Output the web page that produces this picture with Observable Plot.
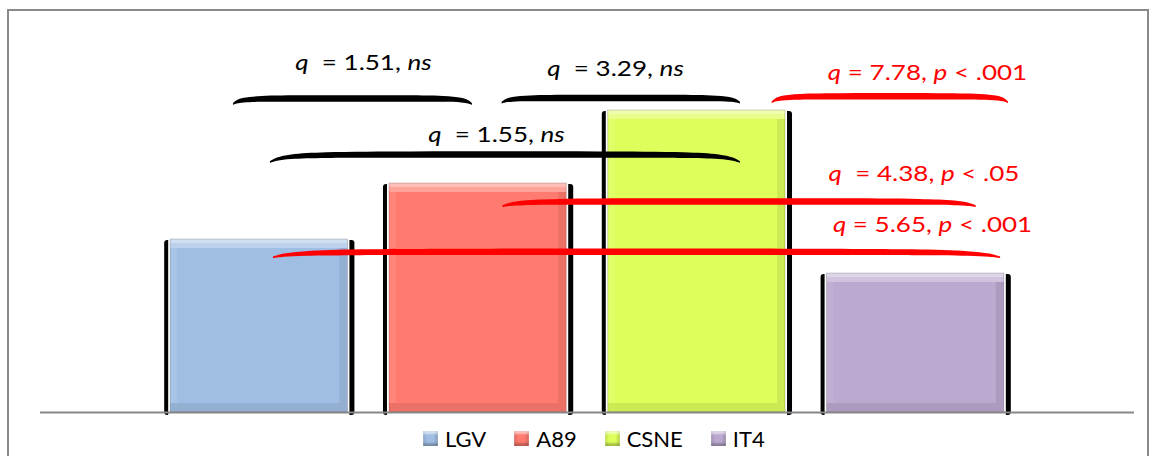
<!DOCTYPE html>
<html>
<head>
<meta charset="utf-8">
<script src="https://cdn.jsdelivr.net/npm/d3@7"></script>
<script src="https://cdn.jsdelivr.net/npm/@observablehq/plot@0.6"></script>
<style>
  html, body { margin: 0; padding: 0; background: #fff; }
  #wrap { position: relative; width: 1152px; height: 456px; overflow: hidden; font-family: Lato, "Open Sans", sans-serif; }
  #frame { position: absolute; left: 7px; top: 9px; width: 1142px; height: 470px; border: 2px solid #8a8a8a; box-sizing: border-box; }
  #chart { position: absolute; left: 0; top: 0; }
  #legend { position: absolute; left: 423px; top: 425px; display: flex; align-items: center; font-size: 22px; color: #000; }
  .item { display: flex; align-items: center; margin-right: 28px; }
  .sw { width: 15px; height: 15px; margin-right: 7px; box-sizing: border-box; box-shadow: inset 0 3px 2px rgba(255,255,255,0.55), inset 0 -3px 2px rgba(0,0,0,0.22), inset 3px 0 2px rgba(0,0,0,0.08), inset -3px 0 2px rgba(0,0,0,0.12); }
</style>
</head>
<body>
<div id="wrap">
  <div id="frame"></div>
  <div id="chart"></div>
  <div id="legend"></div>
</div>
<script>
// ---- data ----
const categories = ["LGV", "A89", "CSNE", "IT4"];
const values = [173, 229, 302, 139];
const colors = ["#A0BEE3", "#FF7B6F", "#DDFE5B", "#BBA9D0"];

// pairwise comparisons
const compFrom = ["LGV", "A89", "CSNE", "LGV", "A89", "LGV"];
const compTo   = ["A89", "CSNE", "IT4", "CSNE", "IT4", "IT4"];
const compQ    = [1.51, 3.29, 7.78, 1.55, 4.38, 5.65];
const compSig  = ["ns", "ns", ".001", "ns", ".05", ".001"];

// ---- annotation layout (in data units: x = category index, y = value units) ----
const bracketStart = [-0.118, 1.110, 2.344, 0.051, 1.114, 0.065];
const bracketEnd   = [0.974, 2.199, 3.424, 2.199, 3.276, 3.388];
const bracketLevel = [313.5, 314, 315.7, 257.5, 210.5, 160.2];
const bracketDrop  = [5.5, 4.5, 6, 7.5, 4.5, 5.5];
const labelX = [0.476, 1.628, 3.054, 1.084, 3.038, 3.077];
const labelY = [342.7, 337, 333, 270.3, 232, 180.3];
const labelGap = [true, true, false, true, true, false];

const idx = c => categories.indexOf(c);
const bars = categories.map((c, i) => ({cat: c, i, v: values[i], color: colors[i]}));

const comps = compQ.map((q, k) => {
  const sig = compSig[k] === "ns" ? "*ns*" : `*p* < ${compSig[k]}`;
  return {
    k,
    from: idx(compFrom[k]), to: idx(compTo[k]),
    label: `*q*${labelGap[k] ? "  " : " "}= ${q.toFixed(2)}, ${sig}`,
    color: compSig[k] === "ns" ? "#000000" : "#FF0000",
    lx: labelX[k], ly: labelY[k]
  };
});

// bracket outline: taper profile (t along bracket, centre drop fraction, half thickness)
const profile = [[0, 1, 0.9], [0.015, 0.62, 1.6], [0.045, 0.3, 2.3], [0.12, 0.08, 2.9], [0.3, 0.01, 3.2], [0.5, 0, 3.3],
                 [0.7, 0.01, 3.2], [0.88, 0.08, 2.9], [0.955, 0.3, 2.3], [0.985, 0.62, 1.6], [1, 1, 0.9]];
const bracketPts = [];
comps.forEach(c => {
  const a = bracketStart[c.k], b = bracketEnd[c.k];
  profile.forEach(([t, d, h]) => {
    const yc = bracketLevel[c.k] - d * bracketDrop[c.k];
    bracketPts.push({k: c.k, x: a + t * (b - a), lo: yc - h, hi: yc + h, color: c.color});
  });
});

const HW = 0.405;           // half bar width
const px = 1 / 218.8;       // one horizontal pixel in x units

const plot = Plot.plot({
  width: 1152,
  height: 424,
  marginLeft: 40,
  marginRight: 18,
  marginTop: 12,
  marginBottom: 12,
  x: {domain: [-1, 4], axis: null},
  y: {domain: [0, 400], axis: null},
  color: {type: "identity"},
  style: {fontFamily: "Lato, 'Open Sans', sans-serif", background: "transparent"},
  marks: [
    // black side edges
    Plot.rect(bars, {x1: d => d.i - HW - 6 * px, x2: d => d.i + HW + 7 * px, y1: -3, y2: d => d.v - 1, fill: "#000", rx: 3}),
    Plot.rect(bars, {x1: d => d.i - HW - 2 * px, x2: d => d.i + HW + 2 * px, y1: -3, y2: d => d.v + 0.5, fill: "#fff"}),
    // bar body
    Plot.rect(bars, {x1: d => d.i - HW, x2: d => d.i + HW, y1: 0, y2: "v", fill: "color"}),
    // bevel
    Plot.rect(bars, {x1: d => d.i - HW, x2: d => d.i + HW, y1: d => d.v - 9, y2: "v", fill: "#fff", fillOpacity: 0.3}),
    Plot.rect(bars, {x1: d => d.i - HW, x2: d => d.i + HW, y1: d => d.v - 4, y2: "v", fill: "#fff", fillOpacity: 0.3}),
    Plot.rect(bars, {x1: d => d.i - HW, x2: d => d.i + HW, y1: 0, y2: 9, fill: "#000", fillOpacity: 0.08}),
    Plot.rect(bars, {x1: d => d.i - HW, x2: d => d.i - HW + 7 * px, y1: 9, y2: d => d.v - 9, fill: "#fff", fillOpacity: 0.08}),
    Plot.rect(bars, {x1: d => d.i + HW - 8 * px, x2: d => d.i + HW, y1: 9, y2: d => d.v - 9, fill: "#000", fillOpacity: 0.08}),
    Plot.rect(bars, {x1: d => d.i - HW, x2: d => d.i + HW, y1: 0, y2: "v", stroke: "#000", strokeOpacity: 0.22, strokeWidth: 0.8, fill: "none"}),
    // baseline
    Plot.ruleY([0], {stroke: "#878787", strokeWidth: 2}),
    // brackets
    Plot.areaY(bracketPts, {x: "x", y1: "lo", y2: "hi", z: "k", fill: "color", curve: "catmull-rom"}),
    // labels
    Plot.text(comps, {x: "lx", y: "ly", text: "label", fill: "color", fontSize: 21, textAnchor: "middle", lineAnchor: "bottom"})
  ]
});

// italics for *marked* segments, and the slightly wide lettering of the original
d3.select(plot).selectAll("text").each(function() {
  const t = this.textContent;
  if (!t.includes("*")) return;
  const sel = d3.select(this);
  sel.text(null).style("white-space", "pre");
  t.split("*").forEach((part, j) => {
    if (!part) return;
    const ts = sel.append("tspan").text(part);
    if (j % 2 === 1) ts.style("font-style", "italic");
  });
  const tr = sel.attr("transform") || "";
  sel.attr("transform", tr + " scale(1.24,1)");
});

document.getElementById("chart").appendChild(plot);

// legend
const leg = d3.select("#legend");
categories.forEach((c, i) => {
  const it = leg.append("div").attr("class", "item");
  it.append("div").attr("class", "sw").style("background", colors[i]);
  it.append("span").text(c);
});
</script>
</body>
</html>
